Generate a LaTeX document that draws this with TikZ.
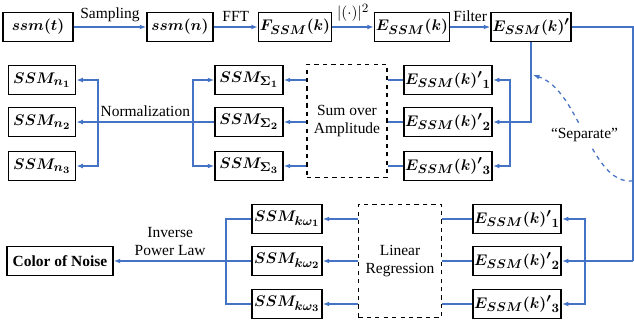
\documentclass[tikz,border=0pt]{standalone}
\usepackage{amsmath}
\usepackage{fontspec}
\setmainfont{Liberation Serif}
\usepackage{tikz}
\usetikzlibrary{positioning, calc, arrows.meta}
\DeclareMathSizes{11}{11}{9}{7}
\definecolor{lineBlue}{HTML}{4472C4}

\begin{document}
\begin{tikzpicture}[x=0.025cm, y=-0.025cm, font=\fontsize{11}{13}\selectfont,
    blk/.style={draw, line width=1.1pt, minimum height=0.72cm, inner sep=1pt, font=\fontsize{11}{13}\selectfont\boldmath\bfseries},
    grp/.style={draw, line width=1pt, dashed, minimum height=2.83cm, align=center},
    arr/.style={-{Latex[length=1.6mm]}, line width=0.9pt, draw=lineBlue},
    ln/.style={line width=0.9pt, draw=lineBlue},
    sep/.style={-{Latex[length=1.6mm]}, line width=0.9pt, dashed, draw=lineBlue},
]
\useasboundingbox (0,0) rectangle (634,324);

\node[blk, minimum width=1.75cm] (sst) at (38,27)  {$ssm(t)$};
\node[blk, minimum width=1.65cm] (ssn) at (180,27) {$ssm(n)$};
\node[blk, minimum width=1.68cm] (fk)  at (295,27) {$F_{SSM}(k)$};
\node[blk, minimum width=1.7cm]  (ek)  at (412,27) {$E_{SSM}(k)$};
\node[blk, minimum width=1.72cm] (ekf) at (531,27) {$E_{SSM}(k)'$};

\draw[arr] (sst) -- node[midway, above] {Sampling} (ssn);
\draw[arr] (ssn) -- node[midway, above] {FFT} (fk);
\draw[arr] (fk) -- node[midway, above] {$|(\cdot)|^2$} (ek);
\draw[arr] (ek) -- node[midway, above] {Filter} (ekf);

\node[blk, minimum width=2cm] (e1m) at (448,80)  {${E_{SSM}(k)'}_1$};
\node[blk, minimum width=2cm] (e2m) at (448,122) {${E_{SSM}(k)'}_2$};
\node[blk, minimum width=2cm] (e3m) at (448,166) {${E_{SSM}(k)'}_3$};
\node[grp, minimum width=2cm] (sum) at (347,121) {Sum over\\Amplitude};
\node[blk, minimum width=1.7cm] (s1) at (249,80)  {$SSM_{\Sigma_1}$};
\node[blk, minimum width=1.7cm] (s2) at (249,122) {$SSM_{\Sigma_2}$};
\node[blk, minimum width=1.7cm] (s3) at (249,166) {$SSM_{\Sigma_3}$};
\node[blk, minimum width=1.68cm] (n1) at (42,80)  {$SSM_{n_1}$};
\node[blk, minimum width=1.68cm] (n2) at (42,122) {$SSM_{n_2}$};
\node[blk, minimum width=1.68cm] (n3) at (42,166) {$SSM_{n_3}$};

\coordinate (mj) at (510,122);
\draw[arr] (ekf.south) |- (e2m.east);
\draw[arr] (mj) |- (e1m.east);
\draw[arr] (mj) |- (e3m.east);
\draw[ln] (e1m.west) -- (e1m.west -| sum.east);
\draw[ln] (e2m.west) -- (e2m.west -| sum.east);
\draw[ln] (e3m.west) -- (e3m.west -| sum.east);
\draw[arr] (s1.east -| sum.west) -- (s1.east);
\draw[arr] (s2.east -| sum.west) -- (s2.east);
\draw[arr] (s3.east -| sum.west) -- (s3.east);

\coordinate (nl) at (98,122);
\coordinate (nr) at (193,122);
\draw[arr] (s2.west) -- node[midway, above] {Normalization} (n2.east);
\draw[arr] (nl) |- (n1.east);
\draw[arr] (nl) |- (n3.east);
\draw[arr] (nr) |- (s1.west);
\draw[arr] (nr) |- (s3.west);

\node[blk, minimum width=2cm] (e1b) at (517,219) {${E_{SSM}(k)'}_1$};
\node[blk, minimum width=2cm] (e2b) at (517,261) {${E_{SSM}(k)'}_2$};
\node[blk, minimum width=2cm] (e3b) at (517,304) {${E_{SSM}(k)'}_3$};
\node[grp, minimum width=2.08cm] (lin) at (400,261) {Linear\\Regression};
\node[blk, minimum width=1.75cm] (k1) at (287,219) {$SSM_{k\omega_1}$};
\node[blk, minimum width=1.75cm] (k2) at (287,261) {$SSM_{k\omega_2}$};
\node[blk, minimum width=1.75cm] (k3) at (287,304) {$SSM_{k\omega_3}$};
\node[blk, minimum width=2.65cm] (noise) at (60,261) {Color of Noise};

\coordinate (tr) at (633,27);
\coordinate (br) at (633,261);
\coordinate (bj) at (585,261);
\draw[ln] (ekf.east) -- (tr) -- (br);
\draw[arr] (br) -- (e2b.east);
\draw[arr] (bj) |- (e1b.east);
\draw[arr] (bj) |- (e3b.east);
\draw[ln] (e1b.west) -- (e1b.west -| lin.east);
\draw[ln] (e2b.west) -- (e2b.west -| lin.east);
\draw[ln] (e3b.west) -- (e3b.west -| lin.east);
\draw[arr] (k1.east -| lin.west) -- (k1.east);
\draw[arr] (k2.east -| lin.west) -- (k2.east);
\draw[arr] (k3.east -| lin.west) -- (k3.east);

\coordinate (kj) at (226,261);
\draw[ln] (k1.west) -| (kj) |- (k3.west);
\draw[arr] (k2.west) -- node[pos=0.59, above, align=center] {Inverse\\Power Law} (noise.east);

\coordinate (sepS) at (633,181);
\coordinate (sepE) at (533,75);
\draw[sep] (sepS) .. controls (590,185) and (580,90) .. node[pos=0.5, fill=white] {``Separate''} (sepE);
\end{tikzpicture}
\end{document}
